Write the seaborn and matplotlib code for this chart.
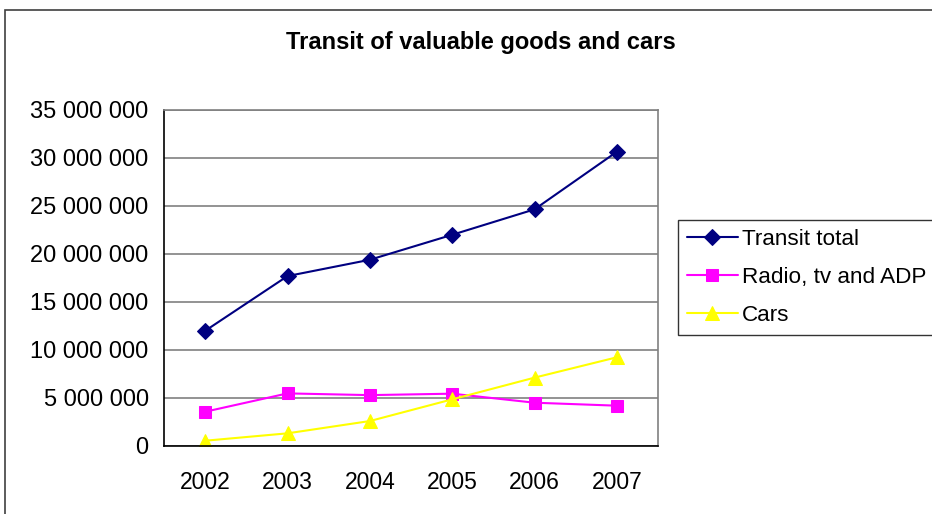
import pandas as pd
import numpy as np
import matplotlib
matplotlib.use("Agg")
import matplotlib.pyplot as plt
import matplotlib.ticker as mticker
from matplotlib.patches import Rectangle
import seaborn as sns

# data
years = [2002, 2003, 2004, 2005, 2006, 2007]
transit_total = [12000000, 17700000, 19400000, 22000000, 24650000, 30650000]
radio_tv_adp = [3570000, 5480000, 5300000, 5450000, 4510000, 4200000]
cars = [550000, 1320000, 2600000, 4860000, 7120000, 9240000]

series_names = ["Transit total", "Radio, tv and ADP", "Cars"]
series_colors = ["#000080", "#FF00FF", "#FFFF00"]
series_markers = ["D", "s", "^"]
marker_sizes = [8, 8.5, 9.5]

sns.set_style("white")
plt.rcParams['font.family'] = ['Liberation Sans', 'DejaVu Sans']
plt.rcParams['text.color'] = 'black'
plt.rcParams['xtick.color'] = 'black'
plt.rcParams['ytick.color'] = 'black'

df = pd.DataFrame({
    "year": years * 3,
    "value": transit_total + radio_tv_adp + cars,
    "series": [series_names[0]] * 6 + [series_names[1]] * 6 + [series_names[2]] * 6,
})

fig = plt.figure(figsize=(9.32, 5.14), dpi=100)
ax = fig.add_axes([164 / 932, 1 - 446 / 514, 494 / 932, 336 / 514])

for name, col, mk, ms in zip(series_names, series_colors, series_markers, marker_sizes):
    sub = df[df["series"] == name]
    sns.lineplot(data=sub, x="year", y="value", ax=ax, color=col, marker=mk,
                 markersize=ms, markeredgecolor=col, linewidth=1.5, label=name)

ax.set_xlim(2001.5, 2007.5)
ax.set_ylim(0, 35000000)
ax.yaxis.set_major_locator(mticker.MultipleLocator(5000000))
ax.yaxis.set_major_formatter(mticker.FuncFormatter(lambda v, p: f"{int(v):,}".replace(",", " ")))
ax.set_xticks(years)
ax.set_xticks(np.arange(2001.5, 2008, 1.0), minor=True)
ax.tick_params(axis="x", which="major", length=0, pad=18, labelsize=16.5, labelcolor="black")
ax.tick_params(axis="x", which="minor", length=4, width=1, direction="out", color="black")
ax.tick_params(axis="y", length=4, width=1, direction="out", color="black", pad=7,
               labelsize=17, labelcolor="black")
ax.set_xlabel("")
ax.set_ylabel("")

ax.grid(axis="y", color="#808080", linewidth=1.2)
ax.grid(axis="x", visible=False)
for side in ["left", "bottom"]:
    ax.spines[side].set_color("black")
    ax.spines[side].set_linewidth(1.2)
for side in ["top", "right"]:
    ax.spines[side].set_color("#808080")
    ax.spines[side].set_linewidth(1.2)

fig.text(481 / 932, 1 - 42 / 514, "Transit of valuable goods and cars", ha="center", va="center",
         fontsize=17, fontweight="bold", color="black")

leg = ax.legend(loc="upper left", bbox_to_anchor=(678 / 932, 1 - 220 / 514),
                bbox_transform=fig.transFigure, frameon=True, fancybox=False,
                edgecolor="black", fontsize=16.2, handlelength=2.25, handletextpad=0.18,
                borderpad=0.4, labelspacing=0.75, borderaxespad=0)
leg.get_frame().set_linewidth(1.0)
for t in leg.get_texts():
    t.set_color("black")

# chart area border
fig.patches.append(Rectangle((5 / 932, -0.1), 1.2, 1 - 10 / 514 + 0.1, transform=fig.transFigure,
                             fill=False, edgecolor="#404040", linewidth=1.2, figure=fig))

fig.savefig("out.png", dpi=100)
